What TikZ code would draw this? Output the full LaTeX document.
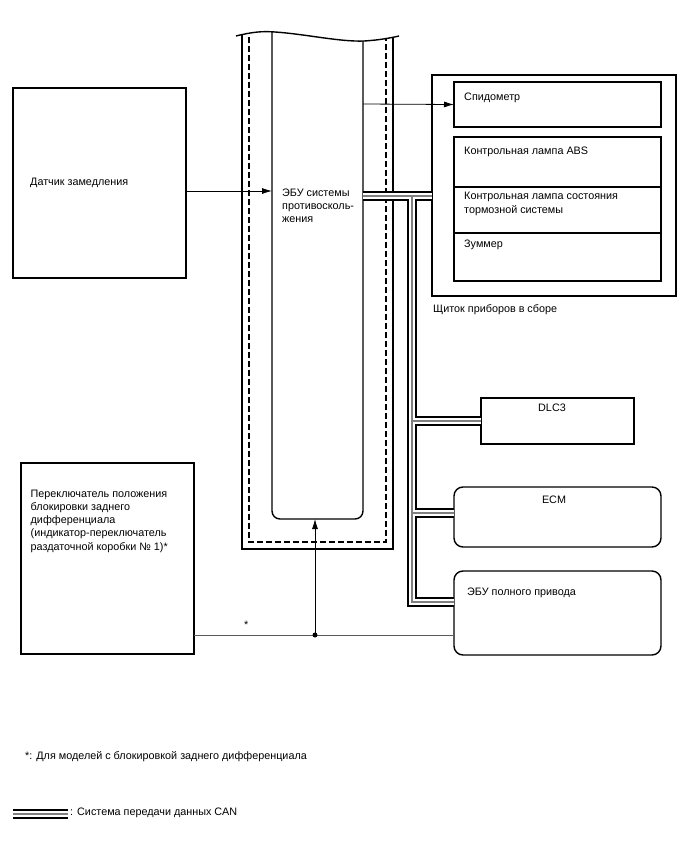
\documentclass[tikz,border=0pt]{standalone}
\usepackage{fontspec}
\setmainfont{Liberation Sans}
\usetikzlibrary{arrows.meta,positioning,calc}
\tikzset{
  unit/.style={draw,line width=1.4pt,anchor=north west,inner sep=0pt,outer sep=0pt},
  roundunit/.style={unit,rounded corners=9pt},
  tag/.style={anchor=north west,inner sep=0pt,align=left,font=\fontsize{10.8}{13.2}\selectfont},
  body/.style={line width=1.4pt},
  signal/.style={-{Latex[length=10pt,width=6pt]},line width=.8pt},
  wire/.style={line width=.8pt,draw=black!65},
  canouter/.style={line width=10pt,draw=black},
  caninner/.style={line width=5.5pt,draw=white},
  cancore/.style={line width=1.2pt,draw=black!50}
}
\begin{document}
\begin{tikzpicture}[x=1pt,y=-1pt]
  \useasboundingbox (0,0) rectangle (688,852);
  % vehicle outline with the ECU
  \draw[body] (236,36) .. controls (252,32) and (262,31) .. (275,32)
    .. controls (305,34) and (340,42) .. (364,41) .. controls (380,40) and (390,38) .. (399,36);
  \draw[body] (242,35) -- (242,549) -- (393,549) -- (393,37);
  \draw[body,dash pattern=on 6pt off 3pt] (249,37) -- (249,542) -- (386,542) -- (386,39);
  \draw[body,rounded corners=8pt] (272,32) -- (272,519) -- (363,519) -- (363,41);
  \node[tag] (ecu) at (282,188.3) {ЭБУ системы\\противосколь-\\жения};
  \coordinate (ecuin) at (272,191);
  \coordinate (ecuout) at (363,104);
  \coordinate (ecubot) at (315,519);
  \coordinate (canA) at (363,196);

  % inputs
  \node[unit,minimum width=173pt,minimum height=190pt] (sensor) at (13,88) {};
  \node[tag] at (30,178.3) {Датчик замедления};
  \node[unit,minimum width=173pt,minimum height=191pt] (switch) at (21,463) {};
  \node[tag] at (30.5,489.6) {Переключатель положения\\блокировки заднего\\дифференциала\\(индикатор-переключатель\\раздаточной коробки № 1)*};

  % combination meter
  \node[unit,minimum width=244pt,minimum height=221pt] (cluster) at (432,75) {};
  \node[tag,below right=8.6pt and 1pt of cluster.south west] {Щиток приборов в сборе};
  \node[unit,minimum width=207pt,minimum height=45pt] (speedo) at (454,82) {};
  \node[tag,below right=11pt and 10pt of speedo.north west] {Спидометр};
  \node[unit,minimum width=207pt,minimum height=50pt] (abs) at (454,137) {};
  \node[unit,minimum width=207pt,minimum height=46pt,below=0pt of abs] (brake) {};
  \node[unit,minimum width=207pt,minimum height=48pt,below=0pt of brake] (buzzer) {};
  \node[tag,below right=9.6pt and 10pt of abs.north west] {Контрольная лампа ABS};
  \node[tag,below right=5.3pt and 10pt of brake.north west] {Контрольная лампа состояния\\тормозной системы};
  \node[tag,below right=7pt and 10pt of buzzer.north west] {Зуммер};

  % CAN nodes
  \node[unit,minimum width=153pt,minimum height=46pt] (dlc) at (481,398) {};
  \node[tag,anchor=north] at (552,404) {DLC3};
  \node[roundunit,minimum width=207pt,minimum height=60pt] (ecm) at (454,487) {};
  \node[tag,anchor=north] at (554,495.3) {ECM};
  \node[roundunit,minimum width=207pt,minimum height=84pt] (awd) at (454,571) {};
  \node[tag] at (467,587.3) {ЭБУ полного привода};

  % signal lines
  \draw[signal] (sensor.east |- ecuin) -- (ecuin);
  \draw[signal] (ecuout) -- (speedo.west);
  \coordinate (jct) at (315,635);
  \draw[wire] (switch.east |- jct) -- (awd.west |- jct);
  \fill (jct) circle (2.5pt);
  \draw[signal] (jct) -- (ecubot);
  \node[tag] at (244,621) {*};

  % CAN bus
  \coordinate (t0) at (412,196);
  \coordinate (t1) at (412,421);
  \coordinate (t2) at (412,513);
  \coordinate (t3) at (412,602);
  \foreach \layer in {canouter,caninner,cancore}{
    \draw[\layer] (canA) -- (canA -| cluster.west);
    \draw[\layer] (t0) -- (t3) -- (t3 -| awd.west);
    \draw[\layer] (t1) -- (t1 -| dlc.west);
    \draw[\layer] (t2) -- (t2 -| ecm.west);
  }

  % notes
  \node[tag] at (25,751.3) {*: Для моделей с блокировкой заднего дифференциала};
  \coordinate (lgA) at (13,814);
  \coordinate (lgB) at (68,814);
  \foreach \layer in {canouter,caninner,cancore}
    \draw[\layer] (lgA) -- (lgB);
  \node[tag] at (70,807.3) {: Система передачи данных CAN};
\end{tikzpicture}
\end{document}
